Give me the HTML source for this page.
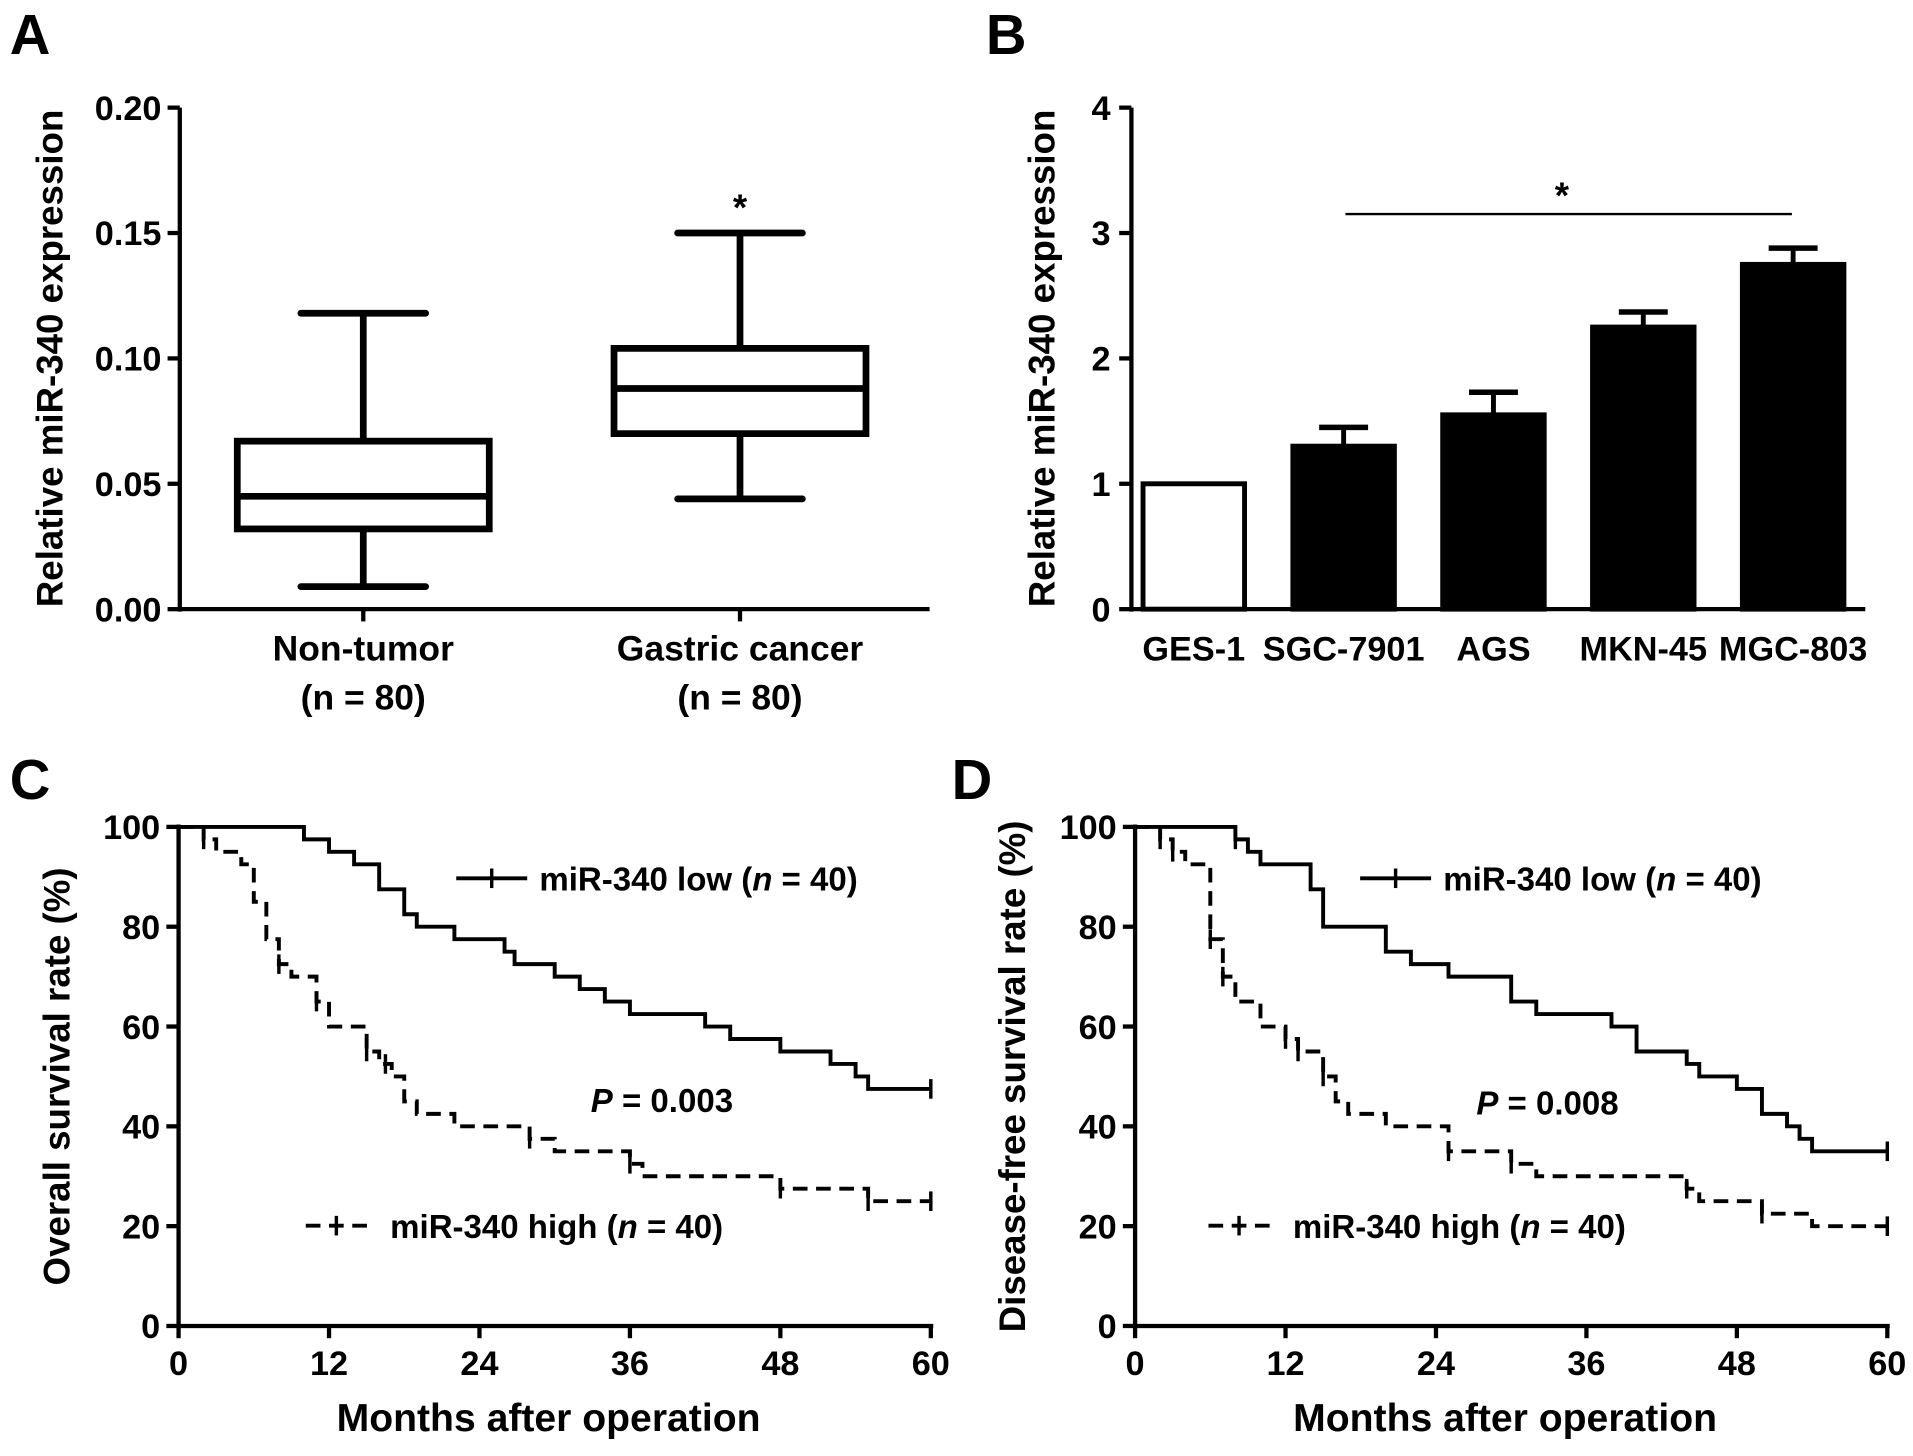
<!DOCTYPE html>
<html><head><meta charset="utf-8">
<style>
html,body{margin:0;padding:0;background:#fff;}
svg{display:block;}
text{font-family:"Liberation Sans",Arial,sans-serif;font-weight:bold;fill:#000;}
</style></head>
<body>
<svg id="fig" width="1913" height="1456" viewBox="0 0 1564 1190.3" preserveAspectRatio="none" xmlns="http://www.w3.org/2000/svg">
<rect width="1564" height="1190.3" fill="#fff"/>
<text x="8" y="44" font-size="46">A</text>
<text x="806" y="44" font-size="46">B</text>
<text x="8" y="653" font-size="46">C</text>
<text x="778" y="653" font-size="46">D</text>
</svg>
<script>
// ---- Panel A data ----
const boxGroups = ["Non-tumor", "Gastric cancer"];
const boxMin = [0.009, 0.044];
const boxQ1 = [0.032, 0.070];
const boxMedian = [0.045, 0.088];
const boxQ3 = [0.067, 0.104];
const boxMax = [0.118, 0.150];
const aTicks = [0, 0.05, 0.10, 0.15, 0.20];
const aTickLabels = ["0.00", "0.05", "0.10", "0.15", "0.20"];
// ---- Panel B data ----
const cellLines = ["GES-1", "SGC-7901", "AGS", "MKN-45", "MGC-803"];
const cellValues = [1.0, 1.3, 1.55, 2.25, 2.75];
const cellErrors = [0, 0.15, 0.18, 0.12, 0.13];
const bTicks = [0, 1, 2, 3, 4];
// ---- Panel C data (months, survival %) ----
const cLowT = [0, 10, 12, 14, 16, 18, 19, 22, 26, 26.8, 30, 32, 34, 36, 42, 44, 48, 52, 54, 55, 60];
const cLowS = [100, 97.5, 95, 92.5, 87.5, 82.5, 80, 77.5, 75, 72.5, 70, 67.5, 65, 62.5, 60, 57.5, 55, 52.5, 50, 47.5, 47.5];
const cHighT = [0, 2, 3, 5, 6, 7, 8, 9, 11, 12, 15, 16, 17, 18, 19, 22, 28, 30, 36, 37, 48, 55, 60];
const cHighS = [100, 97.5, 95, 92.5, 85, 77.5, 72.5, 70, 65, 60, 55, 52.5, 50, 45, 42.5, 40, 37.5, 35, 32.5, 30, 27.5, 25, 25];
const cLowCens = [60];
const cHighCens = [2, 8, 11, 15, 16.5, 28, 36, 48, 55, 60];
// ---- Panel D data ----
const dLowT = [0, 8, 9, 10, 14, 15, 20, 22, 25, 30, 32, 38, 40, 44, 45, 48, 50, 52, 53, 54, 60];
const dLowS = [100, 97.5, 95, 92.5, 87.5, 80, 75, 72.5, 70, 65, 62.5, 60, 55, 52.5, 50, 47.5, 42.5, 40, 37.5, 35, 35];
const dHighT = [0, 2, 3, 4, 6, 7, 8, 10, 12, 13, 15, 16, 17, 20, 25, 30, 32, 44, 45, 50, 54, 60];
const dHighS = [100, 97.5, 95, 92.5, 77.5, 70, 65, 60, 57.5, 55, 50, 45, 42.5, 40, 35, 32.5, 30, 27.5, 25, 22.5, 20, 20];
const dLowCens = [8, 60];
const dHighCens = [2, 3, 6, 7, 12, 13, 15, 25, 30, 44, 50, 60];
const kmXTicks = [0, 12, 24, 36, 48, 60];
const kmYTicks = [0, 20, 40, 60, 80, 100];

const NS = "http://www.w3.org/2000/svg";
const svg = document.getElementById("fig");
function el(tag, attrs, parent) {
  const e = document.createElementNS(NS, tag);
  for (const k in attrs) e.setAttribute(k, attrs[k]);
  (parent || svg).appendChild(e);
  return e;
}
function txt(x, y, s, size, anchor, parent) {
  const t = el("text", {x: x, y: y, "font-size": size, "text-anchor": anchor || "middle"}, parent);
  t.textContent = s;
  return t;
}

// ---------- Panel A ----------
(function () {
  const g = el("g", {});
  
  
  const x0 = 147, x1 = 760, yb = 498, yt = 88;
  const y = v => yb - (v / 0.20) * (yb - yt);
  const cx = [297, 605];
  el("line", {x1: x0, y1: yt, x2: x0, y2: yb + 2, stroke: "#000", "stroke-width": 3.5}, g);
  el("line", {x1: x0 - 2, y1: yb, x2: x1, y2: yb, stroke: "#000", "stroke-width": 3.5}, g);
  aTicks.forEach((v, i) => {
    el("line", {x1: x0 - 10, y1: y(v), x2: x0, y2: y(v), stroke: "#000", "stroke-width": 3.5}, g);
    const t = txt(132, y(v) + 10, aTickLabels[i], 28, "end", g);
    
    
  });
  boxGroups.forEach((name, i) => {
    const c = cx[i];
    el("line", {x1: c, y1: yb, x2: c, y2: yb + 10, stroke: "#000", "stroke-width": 3.5}, g);
    const b = el("g", {}, g);
    
    
    const sw = 5.5;
    el("line", {x1: c, y1: y(boxMax[i]), x2: c, y2: y(boxQ3[i]), stroke: "#000", "stroke-width": sw}, b);
    el("line", {x1: c, y1: y(boxMin[i]), x2: c, y2: y(boxQ1[i]), stroke: "#000", "stroke-width": sw}, b);
    el("line", {x1: c - 51, y1: y(boxMax[i]), x2: c + 51, y2: y(boxMax[i]), stroke: "#000", "stroke-width": sw, "stroke-linecap": "round"}, b);
    el("line", {x1: c - 51, y1: y(boxMin[i]), x2: c + 51, y2: y(boxMin[i]), stroke: "#000", "stroke-width": sw, "stroke-linecap": "round"}, b);
    el("rect", {x: c - 103, y: y(boxQ3[i]), width: 206, height: y(boxQ1[i]) - y(boxQ3[i]), fill: "none", stroke: "#000", "stroke-width": sw}, b);
    el("line", {x1: c - 103, y1: y(boxMedian[i]), x2: c + 103, y2: y(boxMedian[i]), stroke: "#000", "stroke-width": sw}, b);
    const l1 = txt(c, 540, name, 29, "middle", g);
    
    
    const l2 = txt(c, 580, "(n = 80)", 29, "middle", g);
    
    
  });
  const st = txt(cx[1], 180, "*", 30, "middle", g);
  
  
  const yl = txt(0, 0, "Relative miR-340 expression", 30, "middle", g);
  yl.setAttribute("transform", "translate(51,293) rotate(-90)");
  
  
})();

// ---------- Panel B ----------
(function () {
  const g = el("g", {});
  
  
  const x0 = 925, x1 = 1525, yb = 498, yt = 88;
  const y = v => yb - (v / 4) * (yb - yt);
  const step = 122.5, first = 976, bw = 83;
  const bx = i => first + i * step;
  el("line", {x1: x0, y1: yt, x2: x0, y2: yb + 2, stroke: "#000", "stroke-width": 3.5}, g);
  el("line", {x1: x0 - 2, y1: yb, x2: x1, y2: yb, stroke: "#000", "stroke-width": 3.5}, g);
  bTicks.forEach(v => {
    el("line", {x1: x0 - 10, y1: y(v), x2: x0, y2: y(v), stroke: "#000", "stroke-width": 3.5}, g);
    const t = txt(908, y(v) + 10, String(v), 28, "end", g);
    
    
  });
  cellLines.forEach((name, i) => {
    const c = bx(i);
    if (cellErrors[i] > 0) {
      el("line", {x1: c, y1: y(cellValues[i]), x2: c, y2: y(cellValues[i] + cellErrors[i]), stroke: "#000", "stroke-width": 4}, g);
      el("line", {x1: c - 20, y1: y(cellValues[i] + cellErrors[i]), x2: c + 20, y2: y(cellValues[i] + cellErrors[i]), stroke: "#000", "stroke-width": 4.5}, g);
    }
    const r = el("rect", {x: c - bw / 2, y: y(cellValues[i]), width: bw, height: yb - y(cellValues[i]), fill: i === 0 ? "#fff" : "#000", stroke: "#000", "stroke-width": 4}, g);
    
    
    const t = txt(c, 540, name, 28, "middle", g);
    
    
  });
  const sl = el("line", {x1: 1100, y1: 175, x2: 1465, y2: 175, stroke: "#000", "stroke-width": 2}, g);
  
  
  const st = txt(1277, 170, "*", 30, "middle", g);
  
  
  const yl = txt(0, 0, "Relative miR-340 expression", 30, "middle", g);
  yl.setAttribute("transform", "translate(862,293) rotate(-90)");
  
  
})();

// ---------- KM panels ----------
function kmPanel(opt) {
  const g = el("g", {});
  
  
  const x0 = opt.x0, x1 = opt.x0 + 615, yb = 1084, yt = 676;
  const X = m => x0 + (m / 60) * (x1 - x0);
  const Y = s => yb - (s / 100) * (yb - yt);
  el("line", {x1: x0, y1: yt - 2, x2: x0, y2: yb + 2, stroke: "#000", "stroke-width": 3.5}, g);
  el("line", {x1: x0 - 2, y1: yb, x2: x1 + 2, y2: yb, stroke: "#000", "stroke-width": 3.5}, g);
  kmYTicks.forEach(v => {
    el("line", {x1: x0 - 10, y1: Y(v), x2: x0, y2: Y(v), stroke: "#000", "stroke-width": 3.5}, g);
    const t = txt(x0 - 15, Y(v) + 10, String(v), 28, "end", g);
    
    
  });
  kmXTicks.forEach(v => {
    el("line", {x1: X(v), y1: yb, x2: X(v), y2: yb + 10, stroke: "#000", "stroke-width": 3.5}, g);
    const t = txt(X(v), yb + 40, String(v), 28, "middle", g);
    
    
  });
  function curve(T, S, cens, dashed, nm) {
    let d = "M" + X(T[0]) + "," + Y(S[0]);
    for (let i = 1; i < T.length; i++) {
      d += " H" + X(T[i]) + " V" + Y(S[i]);
    }
    const p = el("path", {d: d, fill: "none", stroke: "#000", "stroke-width": 3.2, "stroke-dasharray": dashed ? "12,7" : "none"}, g);
    
    
    cens.forEach(m => {
      let s = S[0];
      for (let i = 0; i < T.length; i++) if (T[i] <= m) s = S[i];
      const c = el("line", {x1: X(m), y1: Y(s) - 8, x2: X(m), y2: Y(s) + 8, stroke: "#000", "stroke-width": 2.8}, g);
      
      
    });
  }
  curve(opt.lowT, opt.lowS, opt.lowC, false, "low-expression-curve");
  curve(opt.highT, opt.highS, opt.highC, true, "high-expression-curve");
  const lg1 = el("g", {}, g);
  
  
  el("line", {x1: opt.l1x, y1: 718, x2: opt.l1x + 58, y2: 718, stroke: "#000", "stroke-width": 3.2}, lg1);
  el("line", {x1: opt.l1x + 29, y1: 710, x2: opt.l1x + 29, y2: 726, stroke: "#000", "stroke-width": 2.8}, lg1);
  const t1 = el("text", {x: opt.l1x + 68, y: 728, "font-size": 27}, lg1);
  t1.innerHTML = 'miR-340 low (<tspan font-style="italic">n</tspan> = 40)';
  const lg2 = el("g", {}, g);
  
  
  el("line", {x1: opt.l2x, y1: 1002, x2: opt.l2x + 50, y2: 1002, stroke: "#000", "stroke-width": 3.2, "stroke-dasharray": "12,7"}, lg2);
  el("line", {x1: opt.l2x + 25, y1: 994, x2: opt.l2x + 25, y2: 1010, stroke: "#000", "stroke-width": 2.8}, lg2);
  const t2 = el("text", {x: opt.l2x + 69, y: 1012, "font-size": 27}, lg2);
  t2.innerHTML = 'miR-340 high (<tspan font-style="italic">n</tspan> = 40)';
  const pt = el("text", {x: opt.px, y: opt.py, "font-size": 27}, g);
  pt.innerHTML = '<tspan font-style="italic">P</tspan> = ' + opt.pval;
  
  
  const xt = txt((x0 + x1) / 2 - 5, 1170, "Months after operation", 32, "middle", g);
  
  
  const yl = txt(0, 0, opt.ytitle, 30, "middle", g);
  yl.setAttribute("transform", "translate(" + opt.ytx + ",880) rotate(-90)");
  
  
}
kmPanel({name: "panel-c-overall-survival", x0: 146, lowT: cLowT, lowS: cLowS, highT: cHighT, highS: cHighS,
  lowC: cLowCens, highC: cHighCens, l1x: 373, l2x: 250, px: 483, py: 909, pval: "0.003",
  ytitle: "Overall survival rate (%)", ytx: 57});
kmPanel({name: "panel-d-disease-free-survival", x0: 928, lowT: dLowT, lowS: dLowS, highT: dHighT, highS: dHighS,
  lowC: dLowCens, highC: dHighCens, l1x: 1112, l2x: 988, px: 1207, py: 911, pval: "0.008",
  ytitle: "Disease-free survival rate (%)", ytx: 838});
</script>
</body></html>
